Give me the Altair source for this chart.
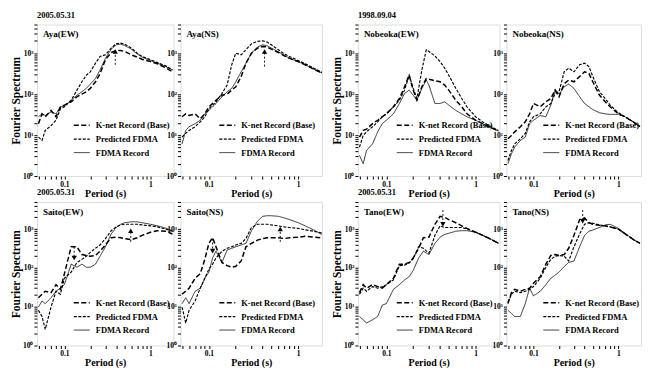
import altair as alt
import pandas as pd

SERIF = "Liberation Serif"
SERIES = ["K-net Record (Base)", "Predicted FDMA", "FDMA Record"]

# ---------------- period grids (s) ----------------
P_STD = [0.05, 0.055, 0.06, 0.07, 0.08, 0.09, 0.1, 0.12, 0.14, 0.16, 0.18, 0.2, 0.23,
         0.26, 0.3, 0.35, 0.4, 0.45, 0.5, 0.6, 0.7, 0.8, 1.0, 1.2, 1.5, 1.8]
P_LONG = [0.05, 0.055, 0.06, 0.07, 0.08, 0.09, 0.1, 0.12, 0.14, 0.16, 0.18, 0.2, 0.23,
          0.26, 0.3, 0.35, 0.4, 0.45, 0.5, 0.6, 0.7, 0.8, 1.0, 1.2, 1.5, 1.8, 2.0]
P_NOB = [0.05, 0.055, 0.06, 0.07, 0.08, 0.09, 0.1, 0.12, 0.14, 0.16, 0.18, 0.2, 0.22,
         0.25, 0.28, 0.3, 0.35, 0.4, 0.45, 0.5, 0.6, 0.7, 0.8, 1.0, 1.2, 1.5, 1.8]
P_SNS = [0.05, 0.055, 0.06, 0.07, 0.08, 0.09, 0.1, 0.11, 0.12, 0.14, 0.16, 0.18, 0.2,
         0.23, 0.26, 0.3, 0.35, 0.4, 0.45, 0.5, 0.6, 0.7, 0.8, 1.0, 1.2, 1.5, 1.8, 2.0]

# ---------------- Aya(EW) ----------------
AYA_EW_KNET = [19, 33, 28, 40, 28, 49, 54, 65, 86, 100, 114, 138, 200, 320, 690, 1040,
               1160, 1160, 1100, 910, 800, 710, 620, 550, 440, 350]
AYA_EW_PRED = [8.9, 7.4, 13, 17, 23, 44, 49, 71, 125, 200, 290, 350, 570, 830, 910, 1330,
               1700, 1760, 1660, 1330, 1000, 830, 690, 590, 490, 390]
AYA_EW_FDMA = [28, 33, 30, 37, 33, 49, 51, 71, 94, 114, 138, 176, 240, 390, 750, 1250,
               1600, 1660, 1540, 1250, 960, 800, 660, 570, 470, 390]
# ---------------- Aya(NS) ----------------
AYA_NS_KNET = [28, 33, 30, 33, 25, 33, 49, 71, 94, 100, 125, 151, 270, 570, 1000, 1330,
               1460, 1410, 1250, 1040, 860, 750, 620, 520, 405, 335, 305]
AYA_NS_PRED = [8.9, 11, 13, 16, 21, 28, 44, 65, 104, 166, 520, 1000, 910, 1210, 1700, 1940,
               2010, 1860, 1600, 1210, 960, 830, 660, 550, 430, 350, 320]
AYA_NS_FDMA = [6.1, 13, 16, 19, 23, 33, 40, 59, 86, 114, 138, 200, 350, 570, 1000, 1410,
               1600, 1510, 1330, 1080, 890, 750, 620, 520, 405, 335, 300]
# ---------------- Nobeoka(EW) ----------------
NOB_EW_KNET = [8.9, 13, 14, 19, 23, 28, 33, 49, 78, 151, 290, 125, 71, 151, 240, 230, 213,
               200, 166, 125, 71, 49, 33, 23, 19, 15, 12.5]
NOB_EW_PRED = [5.1, 9.8, 12, 16, 21, 28, 33, 49, 71, 125, 290, 138, 78, 390, 1210, 1100, 860,
               620, 430, 290, 138, 78, 49, 28, 21, 16, 13]
NOB_EW_FDMA = [3.2, 2.0, 4.2, 6.1, 12, 19, 23, 33, 59, 104, 125, 94, 71, 138, 220, 166, 59,
               59, 65, 54, 40, 33, 28, 23, 19, 15, 12.5]
# ---------------- Nobeoka(NS) ----------------
NOB_NS_KNET = [8.1, 9.8, 12, 16, 21, 33, 59, 49, 65, 78, 125, 86, 180, 220, 200, 270, 350,
               320, 200, 94, 65, 49, 33, 28, 21, 16]
NOB_NS_PRED = [2.4, 4.2, 6.1, 8.1, 11, 21, 28, 33, 49, 59, 104, 114, 350, 430, 350, 520, 570,
               470, 270, 114, 78, 54, 35, 28, 21, 16]
NOB_NS_FDMA = [2.0, 3.5, 5.1, 7.4, 8.9, 19, 23, 30, 28, 54, 130, 100, 151, 176, 138, 86, 59,
               49, 42, 35, 33, 32, 32, 28, 21, 16]
# ---------------- Saito(EW) ----------------
SAI_EW_KNET = [17, 21, 25, 23, 37, 28, 70, 350, 350, 220, 209, 200, 209, 270, 390, 600, 620,
               600, 570, 535, 600, 690, 830, 910, 880, 750]
SAI_EW_PRED = [8.1, 5.6, 2.6, 9.8, 25, 21, 54, 78, 138, 166, 200, 252, 320, 390, 570, 910,
               1140, 1280, 1330, 1330, 1330, 1280, 1210, 1140, 1000, 880]
SAI_EW_FDMA = [9.8, 14, 12, 17, 25, 30, 37, 125, 104, 125, 104, 104, 125, 200, 350, 750,
               1100, 1330, 1460, 1540, 1540, 1460, 1330, 1210, 1060, 910]
# ---------------- Saito(NS) ----------------
SAI_NS_KNET = [21, 25, 30, 54, 71, 166, 430, 600, 350, 138, 114, 104, 110, 151, 350, 430,
               520, 570, 600, 600, 600, 570, 600, 620, 650, 620, 600, 570]
SAI_NS_PRED = [9.8, 3.8, 8.1, 14, 30, 54, 94, 125, 180, 270, 320, 350, 390, 430, 570, 1100,
               1330, 1330, 1330, 1280, 1210, 1140, 1100, 1040, 960, 880, 800, 750]
SAI_NS_FDMA = [12, 17, 12, 25, 30, 54, 78, 180, 270, 138, 290, 320, 350, 390, 430, 910,
               1600, 2130, 2210, 2210, 2130, 1940, 1760, 1460, 1210, 945, 750, 690]
# ---------------- Tano(EW) ----------------
TAN_EW_KNET = [23, 37, 30, 37, 33, 30, 37, 54, 125, 125, 138, 180, 320, 600, 620, 1330,
               2130, 2010, 1760, 1460, 1210, 1040, 830, 690, 540, 430]
TAN_EW_PRED = [21, 30, 25, 33, 30, 33, 37, 49, 114, 118, 133, 173, 350, 320, 240, 690,
               1210, 1100, 1100, 1100, 1100, 1000, 830, 690, 540, 430]
TAN_EW_FDMA = [5.6, 4.6, 3.8, 4.6, 5.6, 11, 12, 28, 37, 49, 59, 86, 180, 270, 220, 430,
               620, 730, 780, 880, 910, 910, 830, 690, 540, 430]
# ---------------- Tano(NS) ----------------
TAN_NS_KNET = [12, 23, 28, 25, 28, 30, 40, 59, 125, 209, 220, 209, 220, 320, 690, 1760,
               1940, 1460, 1330, 1250, 1210, 1140, 1000, 750, 540, 430]
TAN_NS_PRED = [13, 21, 25, 23, 25, 28, 33, 54, 104, 166, 200, 209, 200, 151, 350, 750,
               1330, 1460, 1410, 1280, 1210, 1140, 1000, 750, 540, 430]
TAN_NS_FDMA = [8.1, 6.7, 5.6, 5.6, 12, 30, 19, 25, 37, 54, 65, 78, 108, 138, 151, 350,
               690, 880, 945, 1100, 1280, 1330, 1050, 780, 540, 430]

# arrows: period, tail amplitude, head amplitude, direction
ARROWS = {
    "Aya(EW)": [(0.39, 520, 1100, "up")],
    "Aya(NS)": [(0.42, 470, 1100, "up")],
    "Saito(EW)": [(0.13, 350, 180, "down"), (0.59, 470, 910, "up")],
    "Saito(NS)": [(0.11, 570, 270, "down"), (0.63, 470, 1000, "up")],
    "Tano(EW)": [(0.43, 3100, 1330, "down")],
    "Tano(NS)": [(0.38, 3100, 1600, "down")],
}

X_DOMAIN = [0.048, 1.85]
Y_DOMAIN = [1, 5000]
X_TICKS = [0.05, 0.06, 0.07, 0.08, 0.09, 0.1, 0.2, 0.3, 0.4, 0.5, 0.6, 0.7, 0.8, 0.9, 1]
Y_TICKS = [1, 2, 3, 4, 5, 6, 7, 8, 9, 10, 20, 30, 40, 50, 60, 70, 80, 90,
           100, 200, 300, 400, 500, 600, 700, 800, 900, 1000, 2000, 3000, 4000, 5000]


def x_enc():
    return alt.X(
        "period:Q",
        scale=alt.Scale(type="log", domain=X_DOMAIN),
        axis=alt.Axis(
            values=X_TICKS,
            labelExpr="datum.value == 0.1 ? '0.1' : (datum.value == 1 ? '1' : '')",
            title="Period (s)", titleFont=SERIF, titleFontSize=10, titleFontWeight="bold",
            titleColor="black", titlePadding=1, labelFont=SERIF, labelFontSize=7.5,
            labelFontWeight="bold", labelColor="black", labelPadding=1, tickSize=3,
            tickColor="black", grid=False, domain=False, labelOverlap=False, labelFlush=False,
        ),
    )


def y_enc(title):
    return alt.Y(
        "amp:Q",
        scale=alt.Scale(type="log", domain=Y_DOMAIN),
        title=title,
        axis=alt.Axis(
            values=Y_TICKS,
            labelExpr="datum.value == 1 ? '10⁰' : (datum.value == 10 ? '10¹' : (datum.value == 100 ? '10²' : (datum.value == 1000 ? '10³' : '')))",
            titleFont=SERIF, titleFontSize=11.5, titleFontWeight="bold", titleColor="black",
            titlePadding=1, labelFont=SERIF, labelFontSize=7.5, labelFontWeight="bold",
            labelColor="black", labelPadding=1, tickSize=3, tickColor="black", grid=False,
            domain=False, labelOverlap=False, labelFlush=False,
        ),
    )


def panel(name, period, knet, pred, fdma, width, height, leg_y, ytitle=None, date=None):
    rows = []
    for s, vals in zip(SERIES, [knet, pred, fdma]):
        for p, v in zip(period, vals):
            rows.append({"period": p, "amp": v, "series": s})
    df = pd.DataFrame(rows)
    leg = alt.Legend(
        title=None, orient="none", legendX=int(width * 0.27), legendY=leg_y,
        labelFont=SERIF, labelFontSize=8.5, labelFontWeight="bold", labelColor="black",
        symbolType="M-1,0L1,0", symbolSize=256, symbolStrokeColor="black", rowPadding=0,
        labelLimit=220, padding=0, labelOffset=5,
    )
    lines = alt.Chart(df).mark_line(color="black", clip=True).encode(
        x=x_enc(),
        y=y_enc(ytitle),
        strokeDash=alt.StrokeDash("series:N", scale=alt.Scale(domain=SERIES, range=[[5, 2.5], [3, 1.5], [1, 0]]), legend=leg),
        strokeWidth=alt.StrokeWidth("series:N", scale=alt.Scale(domain=SERIES, range=[1.5, 0.8, 1.3]), legend=leg),
    )
    label = alt.Chart(pd.DataFrame({"name": [name]})).mark_text(
        align="left", baseline="top", font=SERIF, fontSize=9, fontWeight="bold", color="black"
    ).encode(x=alt.value(6), y=alt.value(6), text="name:N")
    layers = [lines, label]
    if name in ARROWS:
        arr = ARROWS[name]
        rule_df = pd.DataFrame({"period": [a[0] for a in arr], "amp": [a[1] for a in arr],
                                "amp2": [a[2] for a in arr]})
        head_df = pd.DataFrame({"period": [a[0] for a in arr], "amp": [a[2] for a in arr],
                                "dir": [a[3] for a in arr]})
        rule = alt.Chart(rule_df).mark_rule(color="black", strokeDash=[2, 2], strokeWidth=0.9).encode(
            x=x_enc(), y=y_enc(ytitle), y2="amp2:Q")
        head = alt.Chart(head_df).mark_point(filled=True, color="black", opacity=1, size=28).encode(
            x=x_enc(), y=y_enc(ytitle),
            shape=alt.Shape("dir:N", scale=alt.Scale(domain=["up", "down"], range=["triangle-up", "triangle-down"]), legend=None))
        layers += [rule, head]
    ch = alt.layer(*layers).properties(width=width, height=height)
    if date:
        ch = ch.properties(title=alt.TitleParams(date, anchor="start", frame="group", font=SERIF,
                                                 fontSize=8.5, fontWeight="bold", color="black",
                                                 offset=1))
    return ch


def spacer(width, height):
    return alt.Chart(pd.DataFrame({"v": [""]})).mark_text().encode(
        x=alt.value(0), y=alt.value(0), text="v:N"
    ).properties(width=width, height=height, view=alt.ViewBackground(strokeOpacity=0))


def indep(c):
    return c.resolve_scale(strokeDash="independent", strokeWidth="independent", shape="independent")


H1, H2 = 152, 144
W = [137, 142, 142, 135]
L1, L2 = H1 - 60, H2 - 52

row1 = indep(alt.hconcat(
    panel("Aya(EW)", P_STD, AYA_EW_KNET, AYA_EW_PRED, AYA_EW_FDMA, W[0], H1, L1, "Fourier Spectrum", "2005.05.31"),
    panel("Aya(NS)", P_LONG, AYA_NS_KNET, AYA_NS_PRED, AYA_NS_FDMA, W[1], H1, L1),
    spacer(22, H1),
    panel("Nobeoka(EW)", P_NOB, NOB_EW_KNET, NOB_EW_PRED, NOB_EW_FDMA, W[2], H1, L1, "Fourier Spectrum", "1998.09.04"),
    panel("Nobeoka(NS)", P_STD, NOB_NS_KNET, NOB_NS_PRED, NOB_NS_FDMA, W[3], H1, L1),
    spacing=7, bounds="flush"))
row2 = indep(alt.hconcat(
    panel("Saito(EW)", P_STD, SAI_EW_KNET, SAI_EW_PRED, SAI_EW_FDMA, W[0], H2, L2, "Fourier Spectrum", "2005.05.31"),
    panel("Saito(NS)", P_SNS, SAI_NS_KNET, SAI_NS_PRED, SAI_NS_FDMA, W[1], H2, L2),
    spacer(22, H2),
    panel("Tano(EW)", P_STD, TAN_EW_KNET, TAN_EW_PRED, TAN_EW_FDMA, W[2], H2, L2, "Fourier Spectrum", "2005.05.31"),
    panel("Tano(NS)", P_STD, TAN_NS_KNET, TAN_NS_PRED, TAN_NS_FDMA, W[3], H2, L2),
    spacing=7, bounds="flush"))

chart = indep(alt.vconcat(row1, row2, spacing=-11)).properties(
    padding=2, background="white"
).configure_view(stroke="black", strokeWidth=1.3).configure(font=SERIF)

chart.save("out.html", embed_options={"renderer": "svg", "actions": False})
